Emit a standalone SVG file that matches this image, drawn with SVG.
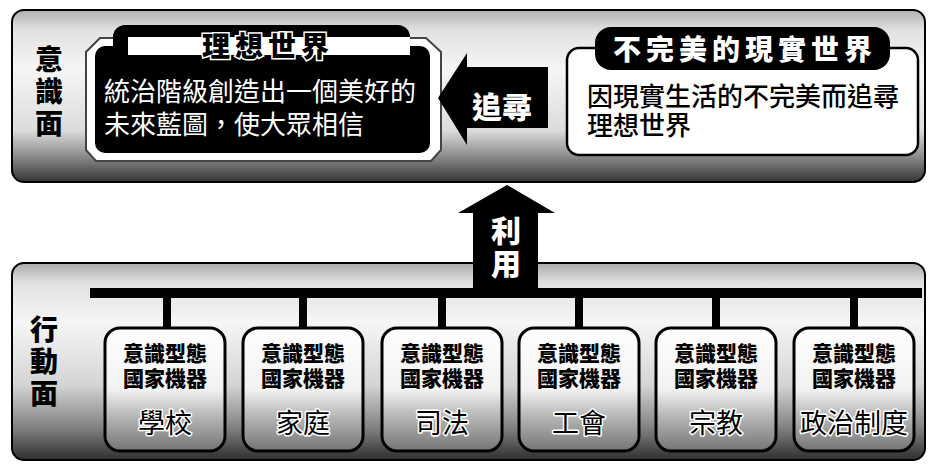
<svg xmlns="http://www.w3.org/2000/svg" width="934" height="469" viewBox="0 0 934 469">
<defs>
<linearGradient id="panelTop" x1="0" y1="0" x2="0" y2="1">
<stop offset="0" stop-color="#b0b0b0"/>
<stop offset="0.12" stop-color="#e2e2e2"/>
<stop offset="0.35" stop-color="#f5f5f5"/>
<stop offset="0.7" stop-color="#dcdcdc"/>
<stop offset="0.85" stop-color="#8c8c8c"/>
<stop offset="1" stop-color="#333"/>
</linearGradient>
<linearGradient id="panelBot" x1="0" y1="0" x2="0" y2="1">
<stop offset="0" stop-color="#aaa"/>
<stop offset="0.1" stop-color="#e0e0e0"/>
<stop offset="0.3" stop-color="#f6f6f6"/>
<stop offset="0.62" stop-color="#d4d4d4"/>
<stop offset="0.84" stop-color="#808080"/>
<stop offset="1" stop-color="#2e2e2e"/>
</linearGradient>
<linearGradient id="boxFill" x1="0" y1="0" x2="0" y2="1">
<stop offset="0" stop-color="#ffffff"/>
<stop offset="0.5" stop-color="#f2f2f2"/>
<stop offset="0.68" stop-color="#c0c0c0"/>
<stop offset="1" stop-color="#747474"/>
</linearGradient>
</defs>
<style>
.cjk{font-family:'Noto Sans CJK TC','Noto Sans CJK SC',sans-serif}
.side{font-size:28px;font-weight:900;fill:#000;writing-mode:vertical-rl;letter-spacing:4px}
.panel{stroke:#000;stroke-width:2}
.body-w{font-size:26px;fill:#fff;font-weight:400}
.body-b{font-size:26px;fill:#000;font-weight:500}
.title-w{font-size:28px;font-weight:900;fill:#fff;text-anchor:middle;letter-spacing:5px}
.node{fill:url(#boxFill);stroke:#000;stroke-width:3}
.nt{font-size:21px;font-weight:900;fill:#000;text-anchor:middle}
.lbl{font-size:27px;font-weight:400;fill:#000;text-anchor:middle;stroke:#fff;stroke-width:3px;paint-order:stroke;stroke-linejoin:round}
.conn{fill:#000}
.arrowtxt{font-size:30px;font-weight:900;fill:#fff;text-anchor:middle}
</style>

<g id="panel-consciousness">
<rect class="panel" x="12" y="10" width="913" height="172" rx="12" fill="url(#panelTop)"/>
<text class="cjk side" x="49" y="45">意識面</text>
</g>

<g id="panel-action">
<rect class="panel" x="12" y="263" width="913" height="197" rx="12" fill="url(#panelBot)"/>
<text class="cjk side" x="44" y="315">行動面</text>
</g>

<g id="node-ideal-world">
<polygon points="100,38 426,38 441,52 441,150 431,161 96,161 86,150 86,52" fill="#fff" stroke="#444" stroke-width="2"/>
<rect x="95" y="46" width="335" height="107" rx="10" fill="#000"/>
<rect x="113" y="25" width="297" height="38" rx="12" fill="#000"/>
<rect x="128" y="37" width="282" height="18" fill="#fff"/>
<text class="cjk" x="268" y="57" font-size="28" font-weight="900" fill="#000" text-anchor="middle" letter-spacing="5" stroke="#fff" stroke-width="3" paint-order="stroke">理想世界</text>
<text class="cjk body-w"><tspan x="104" y="101">統治階級創造出一個美好的</tspan><tspan x="104" y="134">未來藍圖，使大眾相信</tspan></text>
</g>

<g id="node-real-world">
<rect x="567" y="48" width="351" height="107" rx="12" fill="#fff" stroke="#000" stroke-width="2.5"/>
<rect x="595" y="27" width="295" height="43" rx="16" fill="#000"/>
<text class="cjk title-w" x="745" y="60">不完美的現實世界</text>
<text class="cjk body-b"><tspan x="587" y="106">因現實生活的不完美而追尋</tspan><tspan x="587" y="135">理想世界</tspan></text>
</g>

<g id="connectors">
<polygon points="438,98 467,53 467,67 548,67 548,128 467,128 467,145" fill="#000"/>
<text class="cjk arrowtxt" x="502" y="118">追尋</text>
<rect class="conn" x="90" y="288" width="832" height="10"/>
<polygon points="507,185 555,213 538,213 538,292 473,292 473,213 458,213" fill="#000"/>
<text class="cjk arrowtxt" x="506" y="216" style="writing-mode:vertical-rl;text-anchor:start;letter-spacing:3px">利用</text>
<rect class="conn" x="163" y="298" width="8" height="31"/>
<rect class="conn" x="299" y="298" width="8" height="31"/>
<rect class="conn" x="438" y="298" width="8" height="31"/>
<rect class="conn" x="575" y="298" width="8" height="31"/>
<rect class="conn" x="712" y="298" width="8" height="31"/>
<rect class="conn" x="850" y="298" width="8" height="31"/>
</g>

<g id="node-school">
<rect class="node" x="105" y="328" width="120" height="123" rx="15"/>
<text class="cjk nt"><tspan x="165" y="361">意識型態</tspan><tspan x="165" y="386">國家機器</tspan></text>
<text class="cjk lbl" x="165" y="433">學校</text>
</g>
<g id="node-family">
<rect class="node" x="243" y="328" width="120" height="123" rx="15"/>
<text class="cjk nt"><tspan x="303" y="361">意識型態</tspan><tspan x="303" y="386">國家機器</tspan></text>
<text class="cjk lbl" x="303" y="433">家庭</text>
</g>
<g id="node-judiciary">
<rect class="node" x="382" y="328" width="120" height="123" rx="15"/>
<text class="cjk nt"><tspan x="442" y="361">意識型態</tspan><tspan x="442" y="386">國家機器</tspan></text>
<text class="cjk lbl" x="442" y="433">司法</text>
</g>
<g id="node-union">
<rect class="node" x="519" y="328" width="120" height="123" rx="15"/>
<text class="cjk nt"><tspan x="579" y="361">意識型態</tspan><tspan x="579" y="386">國家機器</tspan></text>
<text class="cjk lbl" x="579" y="433">工會</text>
</g>
<g id="node-religion">
<rect class="node" x="656" y="328" width="120" height="123" rx="15"/>
<text class="cjk nt"><tspan x="716" y="361">意識型態</tspan><tspan x="716" y="386">國家機器</tspan></text>
<text class="cjk lbl" x="716" y="433">宗教</text>
</g>
<g id="node-politics">
<rect class="node" x="794" y="328" width="120" height="123" rx="15"/>
<text class="cjk nt"><tspan x="854" y="361">意識型態</tspan><tspan x="854" y="386">國家機器</tspan></text>
<text class="cjk lbl" x="854" y="433">政治制度</text>
</g>
</svg>
